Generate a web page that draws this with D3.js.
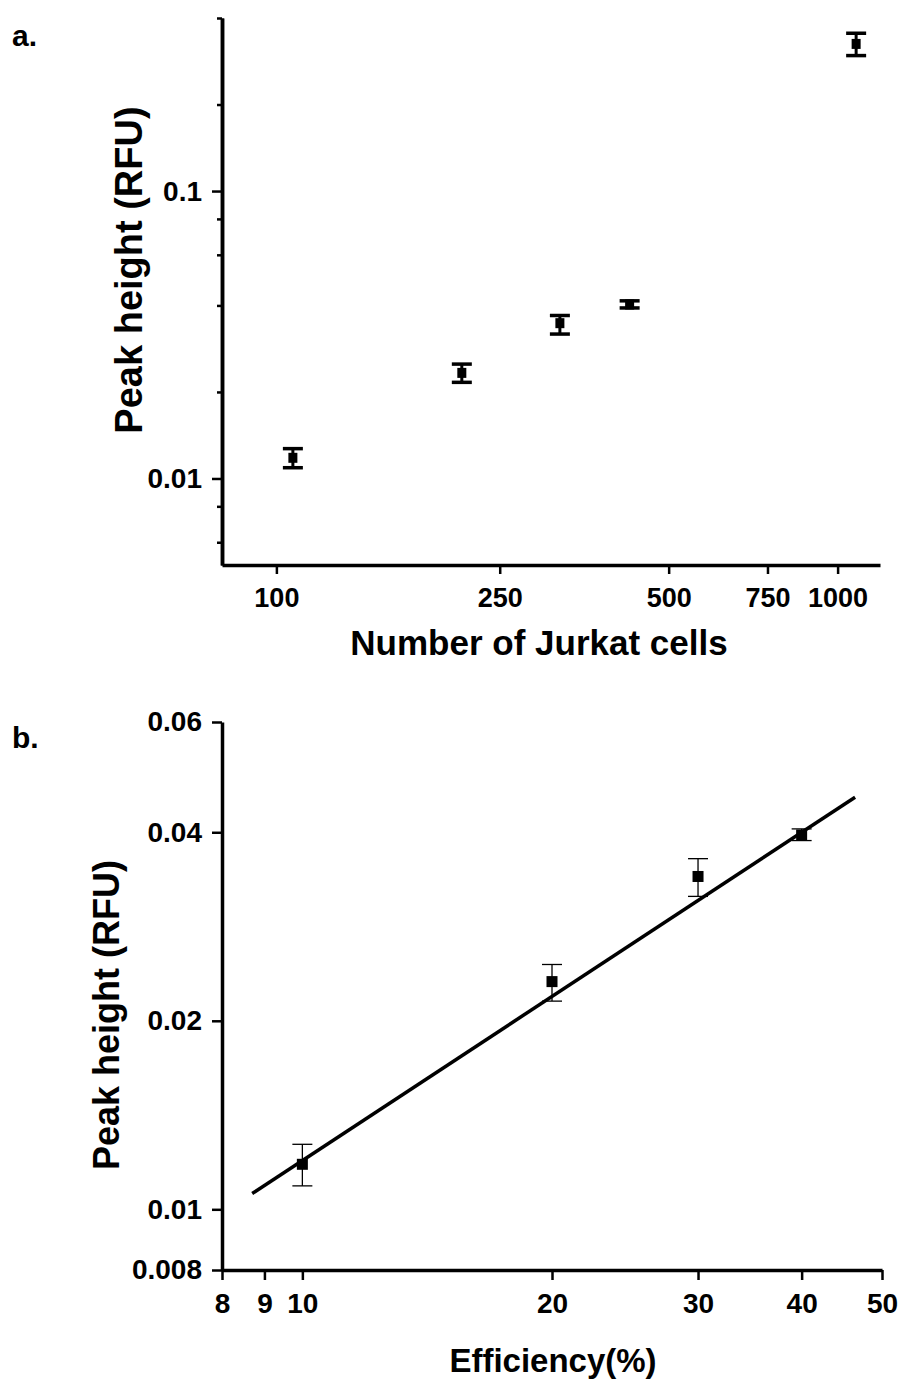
<!DOCTYPE html>
<html>
<head>
  <meta charset="UTF-8">
  <title>Peak height vs cells / efficiency</title>
  <script src="https://d3js.org/d3.v7.min.js"></script>
  <style>
    body { margin: 0; background: #fff; }
    text { font-family: "Liberation Sans", Arial, sans-serif; font-weight: bold; fill: #000; }
  </style>
</head>
<body>
<svg id="chart" width="903" height="1381"></svg>
<script>
  // panel a: number of Jurkat cells vs peak height
  const cellsX   = [107, 214, 320, 426, 1079];
  const cellsY   = [0.0118, 0.0233, 0.0347, 0.0403, 0.325];
  const cellsHi  = [0.0127, 0.0250, 0.0369, 0.0415, 0.354];
  const cellsLo  = [0.0109, 0.0216, 0.0318, 0.0392, 0.296];
  const cellsXTicks = [100, 250, 500, 750, 1000];
  const cellsYTicks = [0.01, 0.1];
  const cellsYMinor = [0.006, 0.008, 0.02, 0.04, 0.06, 0.08, 0.2, 0.4];

  // panel b: efficiency vs peak height, with fitted line
  const effX  = [10, 20, 30, 40];
  const effY  = [0.0118, 0.0231, 0.0340, 0.0396];
  const effHi = [0.0127, 0.0246, 0.0363, 0.0405];
  const effLo = [0.0109, 0.0215, 0.0316, 0.0388];
  const fitX  = [8.7, 46.4];
  const fitY  = [0.0106, 0.0455];
  const effXTicks = [8, 9, 10, 20, 30, 40, 50];
  const effYTicks = [0.008, 0.01, 0.02, 0.04, 0.06];

  const svg = d3.select("#chart");

  const styleAxis = (g, fs) => {
    g.select(".domain").attr("stroke", "#000").attr("stroke-width", 3.5);
    g.selectAll(".tick line").attr("stroke", "#000").attr("stroke-width", 2.5);
    g.selectAll(".tick text").attr("font-size", fs);
  };

  // ---------- panel a ----------
  const xa = d3.scaleLog().domain([80, 1190]).range([222, 880]);
  const ya = d3.scaleLog().domain([0.005, 0.4]).range([565, 18]);

  svg.append("g")
     .attr("transform", `translate(0,${ya.range()[0]})`)
     .call(d3.axisBottom(xa).tickValues(cellsXTicks).tickFormat(d3.format("d"))
             .tickSizeOuter(0).tickSizeInner(9).tickPadding(14))
     .call(g => styleAxis(g, 27));

  svg.append("g")
     .attr("transform", `translate(${xa.range()[0]},0)`)
     .call(d3.axisLeft(ya).tickValues(cellsYMinor).tickFormat("").tickSizeOuter(0).tickSizeInner(5))
     .call(g => styleAxis(g, 28));

  svg.append("g")
     .attr("transform", `translate(${xa.range()[0]},0)`)
     .call(d3.axisLeft(ya).tickValues(cellsYTicks).tickFormat(d => String(d))
             .tickSizeOuter(0).tickSizeInner(10).tickPadding(10))
     .call(g => styleAxis(g, 28));

  const ga = svg.append("g");
  const capA = 10;
  ga.selectAll("line.stem").data(cellsX).join("line").attr("class", "stem")
    .attr("x1", d => xa(d)).attr("x2", d => xa(d))
    .attr("y1", (d, i) => ya(cellsHi[i])).attr("y2", (d, i) => ya(cellsLo[i]))
    .attr("stroke", "#000").attr("stroke-width", 3);
  [cellsHi, cellsLo].forEach(arr => {
    ga.selectAll(null).data(cellsX).join("line")
      .attr("x1", d => xa(d) - capA).attr("x2", d => xa(d) + capA)
      .attr("y1", (d, i) => ya(arr[i])).attr("y2", (d, i) => ya(arr[i]))
      .attr("stroke", "#000").attr("stroke-width", 3.5);
  });
  ga.selectAll("rect").data(cellsX).join("rect")
    .attr("x", d => xa(d) - 4.5).attr("y", (d, i) => ya(cellsY[i]) - 5)
    .attr("width", 9).attr("height", 10).attr("fill", "#000");

  svg.append("text").attr("x", 12).attr("y", 46).attr("font-size", 30).text("a.");
  svg.append("text").attr("x", 539).attr("y", 655).attr("text-anchor", "middle")
     .attr("font-size", 35).text("Number of Jurkat cells");
  svg.append("text").attr("transform", "translate(142,270) rotate(-90)")
     .attr("text-anchor", "middle").attr("font-size", 38).text("Peak height (RFU)");

  // ---------- panel b ----------
  const xb = d3.scaleLog().domain([8, 50]).range([222, 882]);
  const yb = d3.scaleLog().domain([0.008, 0.06]).range([1270, 722]);

  svg.append("g")
     .attr("transform", `translate(0,${yb.range()[0]})`)
     .call(d3.axisBottom(xb).tickValues(effXTicks).tickFormat(d3.format("d"))
             .tickSizeOuter(0).tickSizeInner(10).tickPadding(13))
     .call(g => styleAxis(g, 28));

  svg.append("g")
     .attr("transform", `translate(${xb.range()[0]},0)`)
     .call(d3.axisLeft(yb).tickValues(effYTicks).tickFormat(d => String(d))
             .tickSizeOuter(0).tickSizeInner(10).tickPadding(10))
     .call(g => styleAxis(g, 28));

  const gb = svg.append("g");
  const capB = 10;
  gb.selectAll("line.stem").data(effX).join("line").attr("class", "stem")
    .attr("x1", d => xb(d)).attr("x2", d => xb(d))
    .attr("y1", (d, i) => yb(effHi[i])).attr("y2", (d, i) => yb(effLo[i]))
    .attr("stroke", "#000").attr("stroke-width", 1.3);
  [effHi, effLo].forEach(arr => {
    gb.selectAll(null).data(effX).join("line")
      .attr("x1", d => xb(d) - capB).attr("x2", d => xb(d) + capB)
      .attr("y1", (d, i) => yb(arr[i])).attr("y2", (d, i) => yb(arr[i]))
      .attr("stroke", "#000").attr("stroke-width", 1.3);
  });

  gb.append("path")
    .datum(fitX.map((x, i) => [x, fitY[i]]))
    .attr("d", d3.line().x(d => xb(d[0])).y(d => yb(d[1])))
    .attr("stroke", "#000").attr("stroke-width", 3.5).attr("fill", "none");

  gb.selectAll("rect").data(effX).join("rect")
    .attr("x", d => xb(d) - 5.5).attr("y", (d, i) => yb(effY[i]) - 5.5)
    .attr("width", 11).attr("height", 11).attr("fill", "#000");

  svg.append("text").attr("x", 12).attr("y", 748).attr("font-size", 30).text("b.");
  svg.append("text").attr("x", 553).attr("y", 1372).attr("text-anchor", "middle")
     .attr("font-size", 33).text("Efficiency(%)");
  svg.append("text").attr("transform", "translate(119,1015) rotate(-90)")
     .attr("text-anchor", "middle").attr("font-size", 36).text("Peak height (RFU)");
</script>
</body>
</html>
